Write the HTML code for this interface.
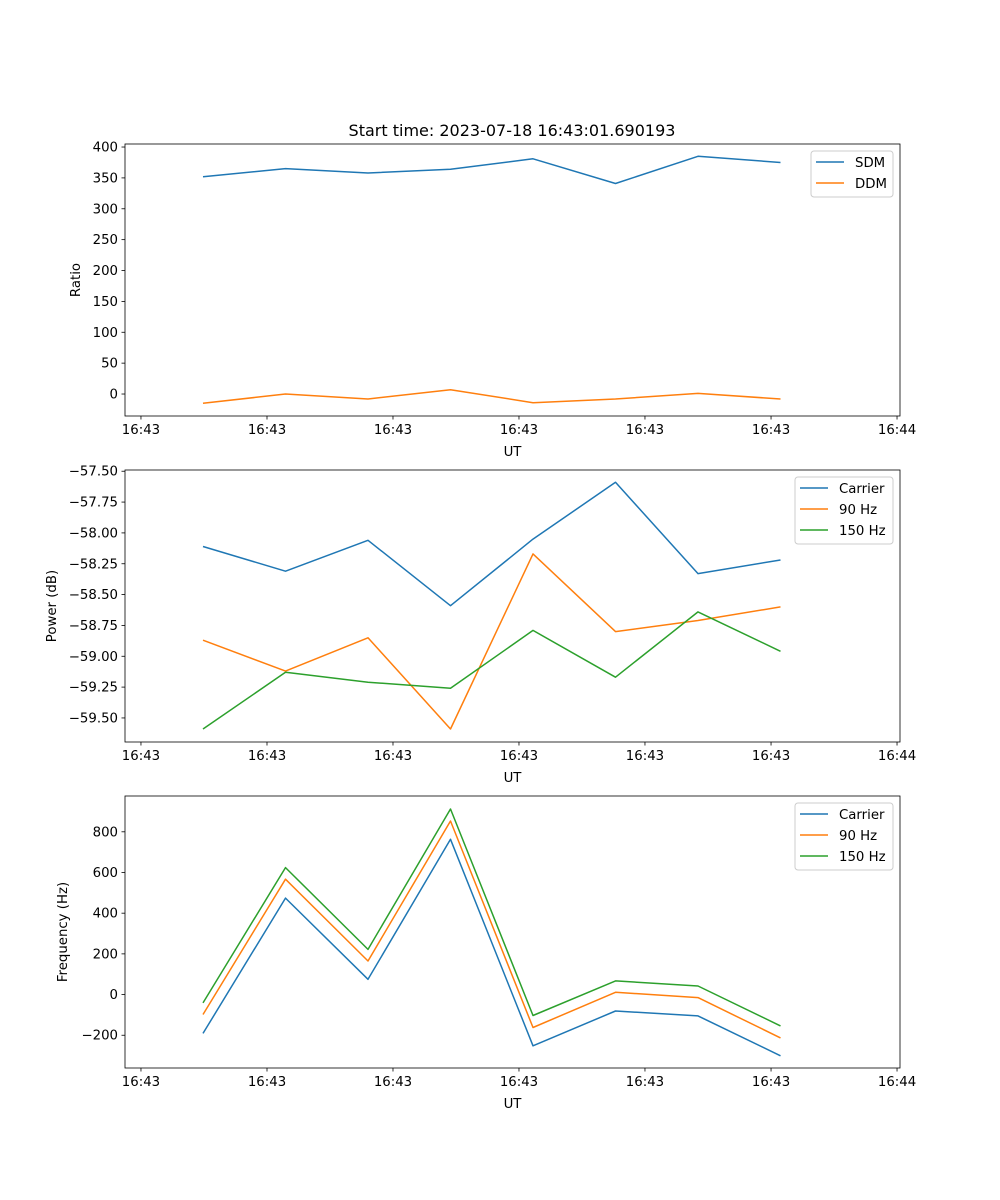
<!DOCTYPE html>
<html><head><meta charset="utf-8"><style>
html,body{margin:0;padding:0;background:#fff;}
svg{display:block;font-family:"DejaVu Sans","Liberation Sans",sans-serif;}
</style></head><body>
<svg id="fig" width="1000" height="1200" xmlns="http://www.w3.org/2000/svg">
<rect width="1000" height="1200" fill="#fff"/>
<text x="512" y="136" font-size="16" text-anchor="middle">Start time: 2023-07-18 16:43:01.690193</text>
</svg>
<script>
const sampleIdx = [0,1,2,3,4,5,6,7];
const xTickLabels = ["16:43","16:43","16:43","16:43","16:43","16:43","16:44"];
const xTickIdx = [-0.7515,0.776,2.303,3.830,5.357,6.885,8.412];
const sdm = [352,365,358,364,381,341,385,375];
const ddm = [-15,0,-8,7,-14,-8,1,-8];
const ratioTicks = [0,50,100,150,200,250,300,350,400];
const pwrCarrier = [-58.11,-58.31,-58.06,-58.59,-58.05,-57.59,-58.33,-58.22];
const pwr90 = [-58.87,-59.12,-58.85,-59.59,-58.17,-58.80,-58.71,-58.60];
const pwr150 = [-59.59,-59.13,-59.21,-59.26,-58.79,-59.17,-58.64,-58.96];
const pwrTicks = [-59.5,-59.25,-59.0,-58.75,-58.5,-58.25,-58.0,-57.75,-57.5];
const frqCarrier = [-191,474,75,763,-252,-81,-105,-301];
const frq90 = [-98,567,165,853,-162,11,-15,-213];
const frq150 = [-41,624,222,912,-103,67,42,-154];
const frqTicks = [-200,0,200,400,600,800];

const NS="http://www.w3.org/2000/svg";
const fig=document.getElementById('fig');
function mk(tag,attrs,parent){const e=document.createElementNS(NS,tag);for(const k in attrs)e.setAttribute(k,attrs[k]);(parent||fig).appendChild(e);return e;}
const L=125,R=900;
const xMin=-0.945,xMax=8.448;
const xs=v=>L+(v-xMin)/(xMax-xMin)*(R-L);
const C={blue:"#1f77b4",orange:"#ff7f0e",green:"#2ca02c"};

function panel(name,top,bot,yMin,yMax,ticks,fmt,ylabel,ylabX,series,legend){
  const g=mk('g',{});
  
  
  const ys=v=>bot-(v-yMin)/(yMax-yMin)*(bot-top);
  ticks.forEach(t=>{
    const y=ys(t);
    const tk=mk('line',{x1:L-3.5,x2:L,y1:y,y2:y,stroke:"#000","stroke-width":0.8},g);
    
    
    const tx=mk('text',{x:L-7,y:y+4.5,"font-size":13.3,"text-anchor":"end"},g);
    tx.textContent=fmt(t);
    
    
  });
  xTickIdx.forEach((v,i)=>{
    const x=xs(v);
    const tk=mk('line',{x1:x,x2:x,y1:bot,y2:bot+3.5,stroke:"#000","stroke-width":0.8},g);
    
    
    const tx=mk('text',{x:x,y:bot+18,"font-size":13.3,"text-anchor":"middle"},g);
    tx.textContent=xTickLabels[i];
    
    
  });
  const xl=mk('text',{x:(L+R)/2,y:bot+40,"font-size":13.3,"text-anchor":"middle"},g);
  xl.textContent="UT";
  
  
  const my=(top+bot)/2;
  const yl=mk('text',{x:ylabX,y:my,"font-size":13.3,"text-anchor":"middle",transform:`rotate(-90 ${ylabX} ${my})`},g);
  yl.textContent=ylabel;
  
  
  series.forEach(s=>{
    const pts=s.vals.map((v,i)=>xs(sampleIdx[i]).toFixed(1)+","+ys(v).toFixed(1)).join(" ");
    const pl=mk('polyline',{points:pts,fill:"none",stroke:s.color,"stroke-width":1.5,"stroke-linejoin":"round"},g);
    
    
  });
  const fr=mk('rect',{x:L,y:top,width:R-L,height:bot-top,fill:"none",stroke:"#000","stroke-width":0.8},g);
  
  
  const lg=mk('g',{},g);
  
  
  mk('rect',{x:legend.x,y:top+7,width:893-legend.x,height:series.length*21+4,rx:3,fill:"#fff","fill-opacity":0.8,stroke:"#ccc","stroke-width":1},lg);
  series.forEach((s,i)=>{
    const y=top+18+i*21;
    const en=mk('g',{},lg);
    
    
    mk('line',{x1:legend.x+5,x2:legend.x+33,y1:y,y2:y,stroke:s.color,"stroke-width":1.5},en);
    const t=mk('text',{x:legend.x+44,y:y+5,"font-size":13.3},en);
    t.textContent=s.label;
  });
}
panel('ratio',144,416,-35.6,404.9,ratioTicks,v=>String(v),"Ratio",80,
  [{id:'sdm',label:'SDM',vals:sdm,color:C.blue},{id:'ddm',label:'DDM',vals:ddm,color:C.orange}],{x:811});
panel('power',470,742,-59.695,-57.49,pwrTicks,v=>'\u2212'+Math.abs(v).toFixed(2),"Power (dB)",56,
  [{id:'carrier-power',label:'Carrier',vals:pwrCarrier,color:C.blue},{id:'90hz-power',label:'90 Hz',vals:pwr90,color:C.orange},{id:'150hz-power',label:'150 Hz',vals:pwr150,color:C.green}],{x:795});
panel('frequency',796,1068,-361,976,frqTicks,v=>v<0?'\u2212'+Math.abs(v):String(v),"Frequency (Hz)",67,
  [{id:'carrier-freq',label:'Carrier',vals:frqCarrier,color:C.blue},{id:'90hz-freq',label:'90 Hz',vals:frq90,color:C.orange},{id:'150hz-freq',label:'150 Hz',vals:frq150,color:C.green}],{x:795});
</script>
</body></html>
